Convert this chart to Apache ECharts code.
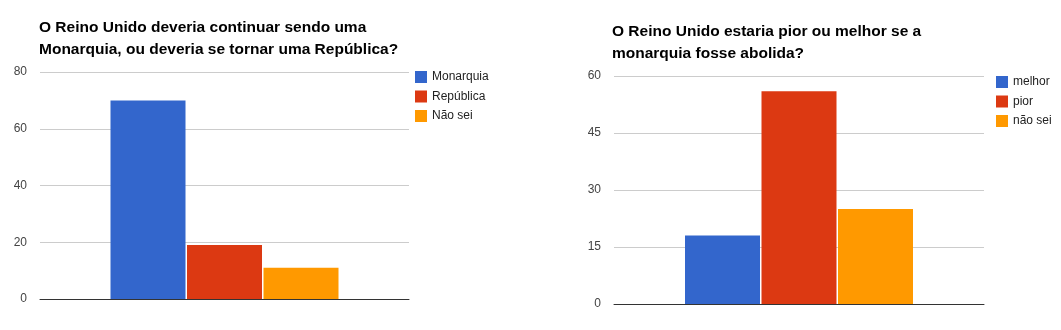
<!DOCTYPE html>
<html>
<head>
<meta charset="utf-8">
<script src="https://cdn.jsdelivr.net/npm/echarts@6/dist/echarts.min.js"></script>
<style>
  html, body { margin: 0; padding: 0; background: #fff; }
  #chart { width: 1061px; height: 330px; }
</style>
</head>
<body>
<div id="chart"></div>
<script>
// Survey 1: should the UK remain a monarchy?
const leftTitle = 'O Reino Unido deveria continuar sendo uma\nMonarquia, ou deveria se tornar uma República?';
const leftSeriesNames = ['Monarquia', 'República', 'Não sei'];
const leftValues = [70, 19, 11];
const leftAxisMax = 80;
const leftAxisStep = 20;

// Survey 2: would the UK be better or worse without the monarchy?
const rightTitle = 'O Reino Unido estaria pior ou melhor se a\nmonarquia fosse abolida?';
const rightSeriesNames = ['melhor', 'pior', 'não sei'];
const rightValues = [18, 56, 25];
const rightAxisMax = 60;
const rightAxisStep = 15;

const palette = ['#3366cc', '#dc3912', '#ff9900'];
const FONT = 'Arial, "Liberation Sans", sans-serif';

const chart = echarts.init(document.getElementById('chart'), null, { renderer: 'canvas' });

function makeSeries(names, values, axisIndex) {
  return names.map((name, i) => ({
    name: name,
    type: 'bar',
    xAxisIndex: axisIndex,
    yAxisIndex: axisIndex,
    barWidth: 75,
    barGap: '2%',
    itemStyle: { color: palette[i] },
    emphasis: { disabled: true },
    data: [values[i]]
  }));
}

function xAxisFor(gridIndex) {
  return {
    type: 'category',
    gridIndex: gridIndex,
    data: [''],
    axisTick: { show: false },
    axisLabel: { show: false },
    axisLine: { show: true, lineStyle: { color: '#333', width: 1 } }
  };
}

function yAxisFor(gridIndex, max, step) {
  return {
    type: 'value',
    gridIndex: gridIndex,
    min: 0,
    max: max,
    interval: step,
    axisLine: { show: false },
    axisTick: { show: false },
    axisLabel: { color: '#444', fontFamily: FONT, fontSize: 12, margin: 13 },
    splitLine: { lineStyle: { color: '#cccccc', width: 1 } }
  };
}

const titleStyle = { color: '#000', fontFamily: FONT, fontSize: 15.5, fontWeight: 'bold', lineHeight: 21.5 };
const legendText = { color: '#222', fontFamily: FONT, fontSize: 12 };

chart.setOption({
  animation: false,
  backgroundColor: '#fff',
  title: [
    { text: leftTitle, left: 39, top: 17, padding: 0, textStyle: titleStyle },
    { text: rightTitle, left: 612, top: 21, padding: 0, textStyle: titleStyle }
  ],
  legend: [
    {
      data: leftSeriesNames, orient: 'vertical', left: 415, top: 71, padding: 0,
      icon: 'rect', itemWidth: 12, itemHeight: 12, itemGap: 7.5,
      textStyle: legendText, selectedMode: false
    },
    {
      data: rightSeriesNames, orient: 'vertical', left: 996, top: 76, padding: 0,
      icon: 'rect', itemWidth: 12, itemHeight: 12, itemGap: 7.5,
      textStyle: legendText, selectedMode: false
    }
  ],
  grid: [
    { left: 40, right: 652, top: 72, bottom: 31 },
    { left: 614, right: 77, top: 76, bottom: 26 }
  ],
  xAxis: [xAxisFor(0), xAxisFor(1)],
  yAxis: [
    yAxisFor(0, leftAxisMax, leftAxisStep),
    yAxisFor(1, rightAxisMax, rightAxisStep)
  ],
  series: [
    ...makeSeries(leftSeriesNames, leftValues, 0),
    ...makeSeries(rightSeriesNames, rightValues, 1)
  ]
});
</script>
</body>
</html>
